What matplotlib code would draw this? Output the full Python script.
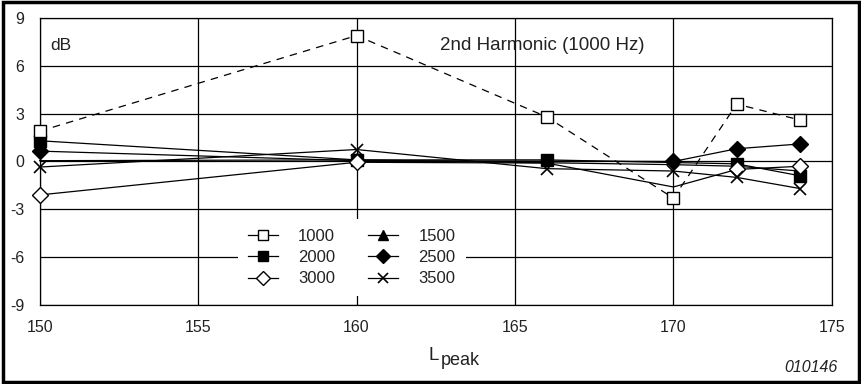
import matplotlib
matplotlib.use("Agg")
import matplotlib.pyplot as plt
from matplotlib.lines import Line2D
from matplotlib.patches import Rectangle

plt.rcParams['font.family'] = ['Liberation Sans', 'DejaVu Sans']
plt.rcParams['axes.unicode_minus'] = False

# series data (dB vs L_peak)
x_1000 = [150, 160, 166, 170, 172, 174]
y_1000 = [1.9, 7.9, 2.8, -2.3, 3.6, 2.6]
x_1500 = [150, 160, 170, 172, 174]
y_1500 = [0.05, 0.1, -0.2, -0.3, -0.6]
x_2000 = [150, 160, 166, 172, 174]
y_2000 = [1.3, 0.1, 0.1, -0.15, -0.9]
x_2500 = [150, 160, 170, 172, 174]
y_2500 = [0.65, 0.05, 0.0, 0.8, 1.1]
x_3000 = [150, 160, 166, 170, 172, 174]
y_3000 = [-2.1, -0.05, -0.1, -1.6, -0.5, -0.3]
x_3500 = [150, 160, 166, 170, 172, 174]
y_3500 = [-0.35, 0.75, -0.45, -0.6, -1.0, -1.7]

txt = '#222222'

fig = plt.figure(figsize=(8.62, 3.84), dpi=100)
ax = fig.add_axes([0.046, 0.206, 0.919, 0.747])

ax.set_xlim(150, 175)
ax.set_ylim(-9, 9)
ax.set_xticks([150, 155, 160, 165, 170, 175])
ax.set_yticks([-9, -6, -3, 0, 3, 6, 9])
ax.tick_params(length=0, labelsize=11.5, pad=11, labelcolor=txt)
ax.grid(True, color='black', linewidth=0.9)
ax.set_axisbelow(True)
for s in ax.spines.values():
    s.set_linewidth(0.9)

lw = 0.9
ax.plot(x_1500, y_1500, color='black', lw=lw, zorder=2, clip_on=False)
ax.plot(x_2000, y_2000, color='black', lw=lw, marker='s', ms=8, mfc='black',
        zorder=3, clip_on=False)
ax.plot(x_2500, y_2500, color='black', lw=lw, marker='D', ms=8, mfc='black',
        zorder=3, clip_on=False)
ax.plot(x_3000, y_3000, color='black', lw=lw, marker='D', ms=8, mfc='white',
        markevery=[0, 1, 4, 5], zorder=3, clip_on=False)
ax.plot(x_3500, y_3500, color='black', lw=lw, marker='x', ms=8, mew=1.2,
        zorder=4, clip_on=False)
ax.plot(x_1000, y_1000, color='black', lw=lw, ls=(0, (6, 5)), marker='s', ms=8,
        mfc='white', zorder=5, clip_on=False)

ax.text(0.014, 0.905, 'dB', transform=ax.transAxes, fontsize=12.5, va='center',
        color=txt)
ax.text(0.505, 0.905, '2nd Harmonic (1000 Hz)', transform=ax.transAxes,
        fontsize=13.5, va='center', color=txt)

# x axis label: L with "peak" subscript
fig.text(429 / 862, 1 - 360 / 384, 'L', fontsize=13.5, va='baseline', color=txt)
fig.text(441 / 862, 1 - 365 / 384, 'peak', fontsize=13, va='baseline', color=txt)

handles = [
    Line2D([], [], color='black', lw=lw, marker='s', ms=7, mfc='white'),
    Line2D([], [], color='black', lw=lw, marker='s', ms=7, mfc='black'),
    Line2D([], [], color='black', lw=lw, marker='D', ms=7, mfc='white'),
    Line2D([], [], color='black', lw=lw, marker='^', ms=7, mfc='black'),
    Line2D([], [], color='black', lw=lw, marker='D', ms=7, mfc='black'),
    Line2D([], [], color='black', lw=lw, marker='x', ms=7, mew=1.2),
]
labels = ['1000', '2000', '3000', '1500', '2500', '3500']
leg = ax.legend(handles, labels, ncol=2, loc='center', bbox_to_anchor=(0.394, 0.165),
                frameon=True, prop={'size': 12}, handlelength=1.8, columnspacing=2.0,
                labelspacing=0.38, handletextpad=1.2, borderpad=0.6)
leg.get_frame().set_edgecolor('none')
leg.get_frame().set_facecolor('white')
leg.get_frame().set_alpha(1)
leg.set_zorder(6)
for t in leg.get_texts():
    t.set_color(txt)

fig.text(0.972, 0.042, '010146', fontsize=11.5, style='italic', ha='right',
         va='center', color=txt)

fig.patches.append(Rectangle((0.003, 0.005), 0.994, 0.99, transform=fig.transFigure,
                             fill=False, edgecolor='black', linewidth=2.5))

fig.savefig('out.png', dpi=100)
